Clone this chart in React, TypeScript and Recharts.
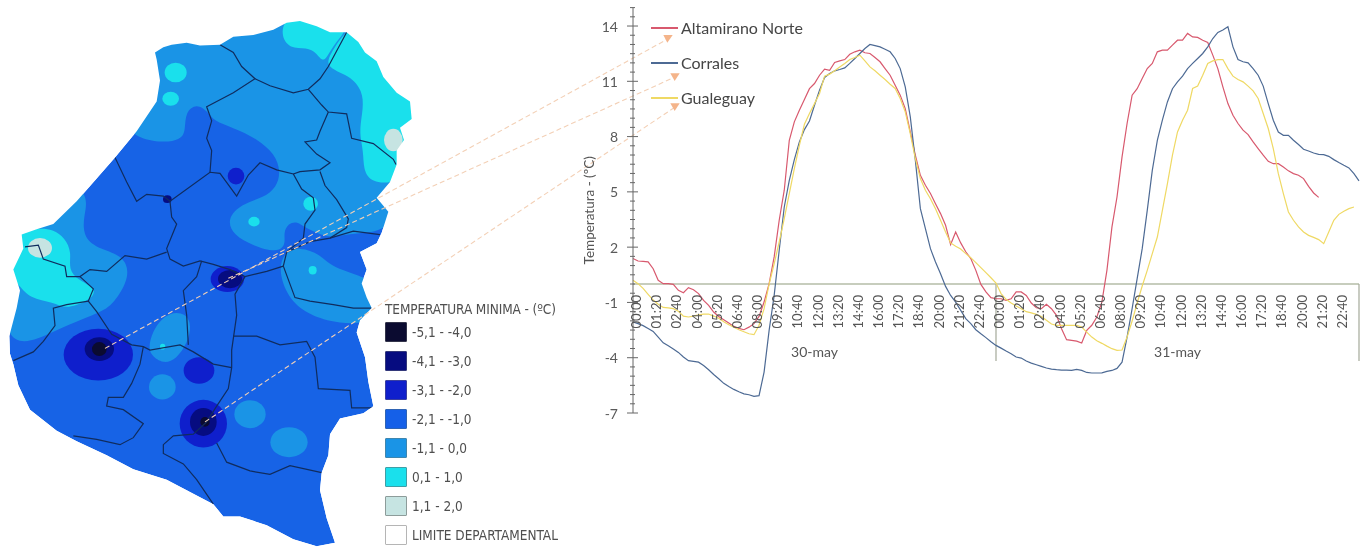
import React from "react";
import { ComposedChart, Line, XAxis, YAxis, ReferenceLine, ReferenceDot, Legend, ScatterChart, Scatter } from "recharts";

// ---------- line chart values: one reading every 20 minutes, 30-may 00:00 to 31-may 24:00
const altamirano = [1.38,1.25,1.23,1.2,0.83,0.2,0.02,0.02,-0.02,-0.34,-0.47,-0.2,-0.31,-0.52,-0.89,-1.16,-1.52,-1.76,-1.94,-2.12,-2.3,-2.41,-2.48,-2.34,-2.15,-1.76,-0.98,0.02,1.47,3.46,5.09,7.8,8.8,9.43,10.01,10.6,10.88,11.33,11.66,11.6,12.02,12.11,12.18,12.47,12.6,12.69,12.55,12.51,12.29,12.06,11.69,11.33,10.79,10.25,9.52,8.25,6.99,5.9,5.36,4.91,4.36,3.82,3.19,2.14,2.82,2.23,1.75,1.38,0.74,-0.02,-0.43,-0.74,-0.8,-0.8,-0.89,-0.8,-0.43,-0.43,-0.62,-1.03,-1.29,-1.34,-1.1,-1.34,-1.7,-2.43,-3.02,-3.06,-3.1,-3.2,-2.52,-2.24,-1.79,-0.98,0.74,3.1,4.72,6.9,8.71,10.25,10.6,11.15,11.69,11.97,12.6,12.69,12.69,12.96,13.23,13.23,13.6,13.41,13.38,13.23,13.11,12.42,11.69,10.7,9.79,9.16,8.71,8.35,8.11,7.71,7.35,6.99,6.66,6.53,6.53,6.35,6.14,5.99,5.9,5.72,5.3,4.94,4.7];
const corrales = [-2.06,-2.15,-2.26,-2.41,-2.57,-2.88,-3.19,-3.35,-3.53,-3.71,-3.96,-4.16,-4.2,-4.24,-4.42,-4.65,-4.91,-5.14,-5.39,-5.56,-5.72,-5.85,-5.96,-6.01,-6.1,-6.06,-4.78,-2.52,-0.62,1.83,4.18,5.63,6.75,7.71,8.38,8.85,9.7,10.52,11.21,11.42,11.57,11.64,11.73,11.97,12.24,12.51,12.78,13,12.94,12.87,12.74,12.6,12.24,11.69,10.7,9.07,6.72,4.09,3.0,1.92,1.19,0.56,-0.13,-0.62,-0.98,-1.43,-1.88,-2.15,-2.48,-2.7,-2.91,-3.13,-3.33,-3.48,-3.64,-3.78,-3.96,-4.02,-4.18,-4.29,-4.38,-4.47,-4.56,-4.62,-4.65,-4.67,-4.67,-4.69,-4.63,-4.69,-4.8,-4.83,-4.83,-4.82,-4.74,-4.69,-4.58,-4.24,-2.88,-1.34,0.29,1.92,4.0,6.17,7.8,8.89,9.88,10.6,10.97,11.28,11.69,11.97,12.24,12.51,12.87,13.32,13.65,13.78,13.96,12.87,12.18,12.06,12,11.69,11.33,10.74,9.79,8.89,8.25,8.07,8.07,7.8,7.57,7.31,7.22,7.11,7.04,7.02,6.93,6.75,6.59,6.44,6.3,5.99,5.6];
const gualeguay = [0.2,0.02,-0.24,-0.56,-0.87,-1.1,-1.27,-1.3,-1.34,-1.48,-1.74,-1.79,-1.74,-1.67,-1.63,-1.63,-1.74,-1.86,-2.05,-2.21,-2.35,-2.48,-2.59,-2.7,-2.75,-2.24,-1.34,0,1.1,2.28,3.55,4.91,6.26,7.53,8.67,9.25,9.79,10.34,11.28,11.39,11.57,11.78,11.97,12.18,12.29,12.42,12.11,11.78,11.57,11.33,11.1,10.84,10.61,10.07,9.34,8.16,6.81,5.72,5.09,4.63,4.09,3.46,2.82,2.23,2.05,1.9,1.65,1.43,1.16,0.89,0.62,0.34,0.05,-0.52,-0.83,-1.03,-1.19,-1.34,-1.5,-1.57,-1.65,-1.76,-1.97,-2.17,-2.24,-2.24,-2.24,-2.24,-2.24,-2.34,-2.61,-2.88,-3.08,-3.22,-3.37,-3.51,-3.6,-3.58,-2.88,-2.01,-1.03,-0.11,0.74,1.65,2.55,4.0,5.45,6.99,8.25,8.89,9.43,10.61,10.74,11.33,11.97,12.11,12.18,12.18,11.69,11.28,11.1,10.97,10.74,10.48,10.07,9.25,8.44,7.35,5.99,4.91,3.91,3.46,3.1,2.82,2.64,2.53,2.41,2.19,2.82,3.46,3.78,3.95,4.09,4.18];
const minutesPerReading = 20;
const timeLabels = ["00:00","01:20","02:40","04:00","05:20","06:40","08:00","09:20","10:40","12:00","13:20","14:40","16:00","17:20","18:40","20:00","21:20","22:40"];
const timeTicks = [0,80,160,240,320,400,480,560,640,720,800,880,960,1040,1120,1200,1280,1360,1440,1520,1600,1680,1760,1840,1920,2000,2080,2160,2240,2320,2400,2480,2560,2640,2720,2800];
const yMajor = [14,11,8,5,2,-1,-4,-7];
const yTicks = [15,14.5,14,13.5,13,12.5,12,11.5,11,10.5,10,9.5,9,8.5,8,7.5,7,6.5,6,5.5,5,4.5,4,3.5,3,2.5,2,1.5,1,0.5,0,-0.5,-1,-1.5,-2,-2.5,-3,-3.5,-4,-4.5,-5,-5.5,-6,-6.5,-7];
const days = [{ t: 720, label: "30-may" }, { t: 2160, label: "31-may" }];
const seriesNames = ["Altamirano Norte", "Corrales", "Gualeguay"];
const seriesColors = ["#d8596e", "#4d6a94", "#efd964"];

const rows = corrales.map((_, i) => ({
  t: i * minutesPerReading,
  a: i < altamirano.length ? altamirano[i] : null,
  c: corrales[i],
  g: i < gualeguay.length ? gualeguay[i] : null,
}));

// ---------- map geometry, in picture units (x: 3 units a pixel, y: 1568 units for the picture height)
const outline = [[465,150],[490,135],[515,128],[560,122],[600,130],[660,128],[700,105],[760,100],[820,85],[860,65],[900,60],[950,75],[990,92],[1040,92],[1075,120],[1095,150],[1130,175],[1150,220],[1190,265],[1230,290],[1235,340],[1200,365],[1212,400],[1190,430],[1190,470],[1170,520],[1130,565],[1165,605],[1145,665],[1130,695],[1080,720],[1100,770],[1085,810],[1100,850],[1115,880],[1080,915],[1070,950],[1095,1020],[1105,1090],[1120,1160],[1090,1180],[1020,1195],[990,1240],[985,1300],[965,1350],[960,1400],[980,1480],[1005,1550],[950,1560],[880,1540],[800,1500],[720,1475],[670,1475],[640,1440],[560,1400],[500,1370],[400,1340],[320,1300],[230,1260],[170,1230],[90,1170],[55,1100],[40,1040],[30,1010],[28,960],[50,880],[60,830],[40,770],[70,710],[65,670],[110,655],[160,640],[230,575],[290,510],[345,450],[410,375],[470,290],[480,230],[470,170]];
const maskFrame = [[0,0],[0,1568],[1250,1568],[1250,0],[0,0]];
const maskShape = [...maskFrame, ...outline, outline[0], [0,0]];

const zoneNorth = [[330,370],[470,410],[545,400],[556,370],[556,320],[590,295],[625,320],[640,345],[700,365],[770,395],[825,440],[842,490],[830,535],[790,565],[725,582],[680,625],[700,672],[760,702],[830,722],[858,700],[850,665],[865,638],[892,632],[915,650],[945,662],[990,682],[1060,662],[1245,665],[1245,0],[400,0]];
const zoneEast = [[850,720],[835,780],[870,860],[930,900],[1010,925],[1150,925],[1150,800],[1000,770],[960,725],[900,705]];
const zoneWest = [[0,1020],[160,945],[300,893],[340,870],[392,790],[372,730],[300,712],[250,680],[250,620],[268,560],[200,500],[0,650]];
const zoneCenter = [[445,985],[465,930],[510,890],[558,895],[575,930],[562,980],[530,1025],[490,1040],[452,1015]];
const warmTop = [[840,100],[860,40],[950,50],[1060,70],[1000,125],[972,185],[950,150],[920,135],[870,140]];
const warmEast = [[1050,70],[1000,140],[970,192],[1050,215],[1088,260],[1090,310],[1078,370],[1085,410],[1090,440],[1092,500],[1130,525],[1200,520],[1245,440],[1245,200],[1150,60]];
const warmWest = [[50,670],[110,650],[160,655],[195,680],[215,720],[205,770],[235,800],[290,825],[275,855],[200,885],[160,862],[90,855],[50,805],[10,770],[20,690]];
const zones = [
  { pts: zoneNorth, color: "#1a94e6" }, { pts: zoneEast, color: "#1a94e6" }, { pts: zoneWest, color: "#1a94e6" },
  { pts: zoneCenter, color: "#1a94e6" }, { pts: warmTop, color: "#1ae0ec" }, { pts: warmEast, color: "#1ae0ec" }, { pts: warmWest, color: "#1ae0ec" },
];

// x, y: centre; rx, ry: half width and height, in the same picture units
const spots = [
  { x: 487, y: 1105, rx: 40, ry: 36, color: "#1a94e6" }, { x: 750, y: 1183, rx: 47, ry: 40, color: "#1a94e6" }, { x: 867, y: 1263, rx: 56, ry: 43, color: "#1a94e6" },
  { x: 527, y: 207, rx: 33, ry: 28, color: "#1ae0ec" }, { x: 512, y: 282, rx: 25, ry: 20, color: "#1ae0ec" }, { x: 762, y: 633, rx: 17, ry: 14, color: "#1ae0ec" },
  { x: 932, y: 582, rx: 22, ry: 20, color: "#1ae0ec" }, { x: 938, y: 772, rx: 12, ry: 12, color: "#1ae0ec" }, { x: 488, y: 990, rx: 8, ry: 8, color: "#1ae0ec" },
  { x: 1180, y: 400, rx: 28, ry: 32, color: "#c6e4e2" }, { x: 120, y: 708, rx: 36, ry: 28, color: "#c6e4e2" },
  { x: 708, y: 503, rx: 25, ry: 24, color: "#0f1fcc" }, { x: 597, y: 1058, rx: 46, ry: 38, color: "#0f1fcc" },
  { x: 295, y: 1013, rx: 104, ry: 74, color: "#0f1fcc" }, { x: 682, y: 797, rx: 50, ry: 37, color: "#0f1fcc" }, { x: 610, y: 1210, rx: 71, ry: 68, color: "#0f1fcc" },
  { x: 502, y: 569, rx: 13, ry: 11, color: "#060c80" }, { x: 298, y: 997, rx: 44, ry: 34, color: "#060c80" }, { x: 690, y: 797, rx: 36, ry: 26, color: "#060c80" }, { x: 610, y: 1205, rx: 40, ry: 40, color: "#060c80" },
  { x: 298, y: 997, rx: 22, ry: 20, color: "#0b0b30" }, { x: 615, y: 1205, rx: 14, ry: 14, color: "#0b0b30" },
];

const borders = [
  [[660,128],[700,150],[725,190],[765,225],[700,265],[620,305],[635,345],[620,395],[635,430],[630,492]],
  [[765,225],[810,245],[880,265],[925,255],[960,225],[985,190],[1040,92]],
  [[925,255],[965,300],[985,320],[1040,325],[1055,395],[1120,410],[1180,455],[1188,470]],
  [[985,320],[960,375],[950,400],[915,405],[950,440],[990,465],[960,485],[900,490],[880,497]],
  [[345,450],[380,520],[410,575],[440,555],[490,560],[510,575],[630,492],[660,495],[710,560],[745,500],[780,465],[830,485],[880,497],[905,540],[940,565],[945,600],[915,640],[910,680],[860,720],[850,760]],
  [[960,490],[975,530],[1010,570],[1045,625],[1040,650],[990,680],[930,690],[860,720]],
  [[990,680],[1060,660],[1140,670]],
  [[510,575],[515,620],[530,640],[500,710],[510,740],[550,760],[600,745],[640,755],[690,770],[735,790],[800,775],[850,760]],
  [[500,720],[440,740],[375,730],[320,775],[270,770],[240,790],[200,790],[195,760],[130,740],[115,700],[75,705]],
  [[240,790],[280,825],[265,860],[290,890],[335,955],[395,985],[430,990],[450,1000],[540,985],[580,1005],[640,1040],[695,1050]],
  [[605,745],[590,790],[550,830],[560,900],[565,985]],
  [[735,790],[705,840],[710,900],[695,1000],[695,1050],[685,1110],[650,1160],[620,1205],[580,1240],[520,1245],[490,1270],[490,1295],[550,1325],[590,1370],[640,1440]],
  [[265,860],[200,870],[160,880],[165,930],[130,975],[100,1005],[40,1030]],
  [[430,990],[420,1040],[395,1095],[370,1135],[325,1135],[320,1160],[370,1170],[430,1210],[400,1250],[360,1270],[290,1255],[220,1245]],
  [[700,960],[770,960],[840,985],[920,975],[945,1020],[955,1110],[1050,1115],[1055,1165],[1120,1165]],
  [[650,1265],[680,1320],[750,1345],[810,1355],[870,1330],[965,1350]],
  [[850,760],[885,850],[930,860],[1000,870],[1060,880],[1115,880]],
];

const leaders = [
  [[315,995],[2004,111]],
  [[685,795],[2025,220]],
  [[615,1205],[2025,306]],
];
const arrowHeads = [
  [[1990,100],[2018,100],[2002,122]],
  [[2011,209],[2039,209],[2024,231]],
  [[2011,295],[2039,295],[2024,317]],
];

// ---------- map key
const keyTitle = "TEMPERATURA MINIMA - (ºC)";
const keyLabels = ["-5,1 - -4,0","-4,1 - -3,0","-3,1 - -2,0","-2,1 - -1,0","-1,1 - 0,0","0,1 - 1,0","1,1 - 2,0","LIMITE DEPARTAMENTAL"];
const keyColors = ["#0b0b30","#060c80","#0f1fcc","#1560e8","#1a94e6","#1ae0ec","#c6e4e2","#ffffff"];
const keyEdges = ["#33344a","#33387a","#3a40a0","#2f64b4","#3f86ae","#3f9ea6","#8d9c9a","#b5b5b5"];

const mapBase = "#1763e6";
const fontFamily = "Lato, 'Open Sans', sans-serif";
const keyFont = "'DejaVu Sans Condensed', 'Liberation Sans Narrow', 'Open Sans', sans-serif";
const asPoints = (pts: number[][]) => pts.map(([x, y]) => ({ x, y }));
const noMark = () => <g />;

const SpotShape = (p: any) => (
  <ellipse cx={p.cx} cy={p.cy} rx={p.payload.rx / 3} ry={p.payload.ry / 2.856} fill={p.payload.color} />
);

const MapKey = () => (
  <div style={{ fontFamily: keyFont, color: "#4f4f4f", fontSize: 13.5, width: 190 }}>
    <div style={{ height: 18, lineHeight: "20px", whiteSpace: "nowrap", letterSpacing: -0.1 }}>{keyTitle}</div>
    {keyLabels.map((label, i) => (
      <div key={label} style={{ display: "flex", alignItems: "center", height: 29 }}>
        <div style={{ width: 20, height: 18, marginRight: 5, background: keyColors[i], border: `1.5px solid ${keyEdges[i]}`, borderRadius: 1, flex: "none" }} />
        <span style={{ whiteSpace: "nowrap" }}>{label}</span>
      </div>
    ))}
  </div>
);

const SeriesKey = () => (
  <div style={{ fontFamily, color: "#454545", fontSize: 16 }}>
    {seriesNames.map((name, i) => (
      <div key={name} style={{ display: "flex", alignItems: "center", height: 35 }}>
        <div style={{ width: 27, height: 2, background: seriesColors[i], marginRight: 3 }} />
        <span style={{ whiteSpace: "nowrap" }}>{name}</span>
      </div>
    ))}
  </div>
);

const YTick = (p: any) => {
  const v = p.payload.value;
  const major = yMajor.includes(v);
  return (
    <g>
      <line x1={p.x - (major ? 6 : 3)} x2={p.x + (major ? 5 : 2)} y1={p.y} y2={p.y} stroke="#666" strokeWidth={1} />
      {major && (
        <text x={p.x - 15} y={p.y} textAnchor="end" dominantBaseline="central" fontFamily={fontFamily} fontSize={14} fill="#5a5a5a">
          {v}
        </text>
      )}
    </g>
  );
};

const XTick = (p: any) => {
  const label = timeLabels[Math.round(p.payload.value / 80) % timeLabels.length];
  const x = p.x + 3;
  const y = 295;
  return (
    <text x={x} y={y} transform={`rotate(-90 ${x} ${y})`} textAnchor="end" dominantBaseline="central" fontFamily={fontFamily} fontSize={13} fill="#555">
      {label}
    </text>
  );
};

export default function App() {
  return (
    <div style={{ position: "absolute", left: 0, top: 0, width: 1365, height: 549, background: "#fff", overflow: "hidden", filter: "blur(0.5px)" }}>
      <div style={{ position: "absolute", left: 0, top: 0 }}>
        <ScatterChart width={1365} height={549} margin={{ top: 0, right: 0, bottom: 0, left: 0 }}>
          <XAxis type="number" dataKey="x" domain={[0, 4095]} hide />
          <YAxis type="number" dataKey="y" domain={[0, 1568]} reversed hide />
          <Legend layout="vertical" align="center" verticalAlign="middle" content={<MapKey />} wrapperStyle={{ left: 385, top: 299, width: 190 }} />
          <Scatter data={asPoints(outline)} isAnimationActive={false} shape={noMark} lineJointType="linearClosed" line={{ fill: mapBase, stroke: "none" }} legendType="none" />
          {zones.map((z, i) => (
            <Scatter key={i} data={asPoints(z.pts)} isAnimationActive={false} shape={noMark} lineJointType="basisClosed" line={{ fill: z.color, stroke: "none" }} legendType="none" />
          ))}
          <Scatter data={spots} isAnimationActive={false} shape={SpotShape} legendType="none" />
          {borders.map((b, i) => (
            <Scatter key={i} data={asPoints(b)} isAnimationActive={false} shape={noMark} line={{ stroke: "#102c5e", strokeWidth: 1.2, fill: "none" }} legendType="none" />
          ))}
          <Scatter data={asPoints(maskShape)} isAnimationActive={false} shape={noMark} line={{ fill: "#ffffff", stroke: "none" }} legendType="none" />
          {leaders.map((l, i) => (
            <Scatter key={i} data={asPoints(l)} isAnimationActive={false} shape={noMark} line={{ stroke: "#f3d0b6", strokeWidth: 1.1, strokeDasharray: "5 3", fill: "none" }} legendType="none" />
          ))}
          {arrowHeads.map((a, i) => (
            <Scatter key={i} data={asPoints(a)} isAnimationActive={false} shape={noMark} lineJointType="linearClosed" line={{ fill: "#f4b48a", stroke: "none" }} legendType="none" />
          ))}
        </ScatterChart>
      </div>
      <div style={{ position: "absolute", left: 0, top: 0 }}>
        <ComposedChart width={1365} height={549} data={rows} margin={{ top: 7.6, right: 6, bottom: 135, left: 0 }}>
          <XAxis type="number" dataKey="t" domain={[0, 2880]} ticks={timeTicks} interval={0} axisLine={false} tickLine={false} tick={<XTick />} height={1} />
          <YAxis
            type="number"
            domain={[-7, 15]}
            ticks={yTicks}
            interval={0}
            width={633}
            tickSize={0}
            tickMargin={0}
            tickLine={false}
            axisLine={{ stroke: "#666" }}
            tick={<YTick />}
            label={{ value: "Temperatura - (ºC)", angle: -90, position: "center", dx: 273, style: { fontFamily, fontSize: 13.5, fill: "#555" } }}
          />
          <Legend layout="vertical" align="center" verticalAlign="middle" content={<SeriesKey />} wrapperStyle={{ left: 651, top: 10, width: 170 }} />
          <ReferenceLine y={0} stroke="#8f9c7c" strokeWidth={1.2} />
          <ReferenceLine segment={[{ x: 1440, y: 0 }, { x: 1440, y: -4.18 }]} stroke="#a4a999" strokeWidth={1.2} />
          <ReferenceLine segment={[{ x: 2880, y: 0 }, { x: 2880, y: -4.18 }]} stroke="#a4a999" strokeWidth={1.2} />
          {days.map((d) => (
            <ReferenceDot
              key={d.label}
              x={d.t}
              y={-3.68}
              r={0}
              fill="none"
              stroke="none"
              label={{ value: d.label, position: "center", style: { fontFamily, fontSize: 14, fill: "#555" } }}
            />
          ))}
          <Line dataKey="a" name={seriesNames[0]} stroke={seriesColors[0]} strokeWidth={1.2} dot={false} isAnimationActive={false} connectNulls={false} />
          <Line dataKey="c" name={seriesNames[1]} stroke={seriesColors[1]} strokeWidth={1.2} dot={false} isAnimationActive={false} connectNulls={false} />
          <Line dataKey="g" name={seriesNames[2]} stroke={seriesColors[2]} strokeWidth={1.2} dot={false} isAnimationActive={false} connectNulls={false} />
        </ComposedChart>
      </div>
    </div>
  );
}
